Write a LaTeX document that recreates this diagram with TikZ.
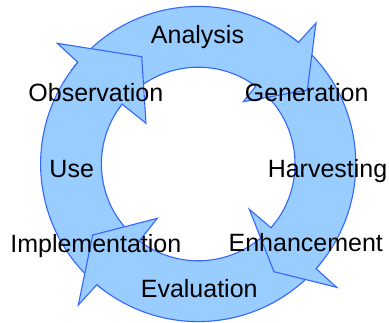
\documentclass[tikz,border=0pt]{standalone}
\usepackage{fontspec}
\setmainfont{Liberation Sans}
\usetikzlibrary{calc}
\definecolor{ringfill}{HTML}{99CCFF}
\definecolor{ringline}{HTML}{3366FF}
\tikzset{
  ringpart/.style={fill=ringfill, draw=ringline, line width=1.1pt, line join=miter},
  lbl/.style={anchor=base, inner sep=0pt, font=\fontsize{25}{30}\selectfont, text=black}
}
\begin{document}
\begin{tikzpicture}[x=1pt,y=1pt]
\useasboundingbox (0,0) rectangle (389,-322);
\coordinate (C) at (198.2,-164);
% ---- bodies (tails first, covered later by heads) ----
% Analysis
\path[ringpart] ([shift={(C)}]50.5:157.6pt) arc[start angle=50.5,end angle=136,radius=157.6pt]
  -- ([shift={(C)}]136:96.8pt) arc[start angle=136,end angle=53.5,radius=96.8pt];
% Harvesting
\path[ringpart] ([shift={(C)}]-41.6:157.6pt) arc[start angle=-41.6,end angle=47,radius=157.6pt]
  -- ([shift={(C)}]47:96.8pt) arc[start angle=47,end angle=-41.2,radius=96.8pt];
% Evaluation
\path[ringpart] ([shift={(C)}]-130:157.6pt) arc[start angle=-130,end angle=-44,radius=157.6pt]
  -- ([shift={(C)}]-44:96.8pt) arc[start angle=-44,end angle=-127.4,radius=96.8pt];
% Use
\path[ringpart] ([shift={(C)}]-220.2:157.6pt) arc[start angle=-220.2,end angle=-133,radius=157.6pt]
  -- ([shift={(C)}]-133:96.8pt) arc[start angle=-133,end angle=-218.2,radius=96.8pt];
% ---- heads ----
\path[ringpart] ([shift={(C)}]54.5:157.6pt) arc[start angle=54.5,end angle=50.5,radius=157.6pt]
  -- (316,-23) -- (307.3,-90) -- (243.3,-101.7)
  -- ([shift={(C)}]53.5:96.8pt) arc[start angle=53.5,end angle=57.5,radius=96.8pt];
\path[ringpart] ([shift={(C)}]-37.6:157.6pt) arc[start angle=-37.6,end angle=-41.6,radius=157.6pt]
  -- (336.7,-287.3) -- (274,-271.7) -- (249.3,-209.3)
  -- ([shift={(C)}]-41.2:96.8pt) arc[start angle=-41.2,end angle=-37.2,radius=96.8pt];
\path[ringpart] ([shift={(C)}]-126:157.6pt) arc[start angle=-126,end angle=-130,radius=157.6pt]
  -- (78.3,-305) -- (92.7,-235) -- (157.3,-218.3)
  -- ([shift={(C)}]-127.4:96.8pt) arc[start angle=-127.4,end angle=-123.4,radius=96.8pt];
\path[ringpart] ([shift={(C)}]-216.2:157.6pt) arc[start angle=-216.2,end angle=-220.2,radius=157.6pt]
  -- (57.3,-43.3) -- (141.7,-56.7) -- (146,-123.3)
  -- ([shift={(C)}]-218.2:96.8pt) arc[start angle=-218.2,end angle=-214.2,radius=96.8pt];
% ---- labels ----
\node[lbl] (analysis) at (197.5,-43.5) {Analysis};
\node[lbl] (observation) at (95.8,-101.9) {Observation};
\node[lbl] (generation) at (306.7,-101.9) {Generation};
\node[lbl] (use) at (71.7,-177) {Use};
\node[lbl] (harvesting) at (327.5,-177) {Harvesting};
\node[lbl] (implementation) at (95.8,-252.2) {Implementation};
\node[lbl] (enhancement) at (305.8,-251.7) {Enhancement};
\node[lbl] (evaluation) at (199.2,-297) {Evaluation};
\end{tikzpicture}
\end{document}
